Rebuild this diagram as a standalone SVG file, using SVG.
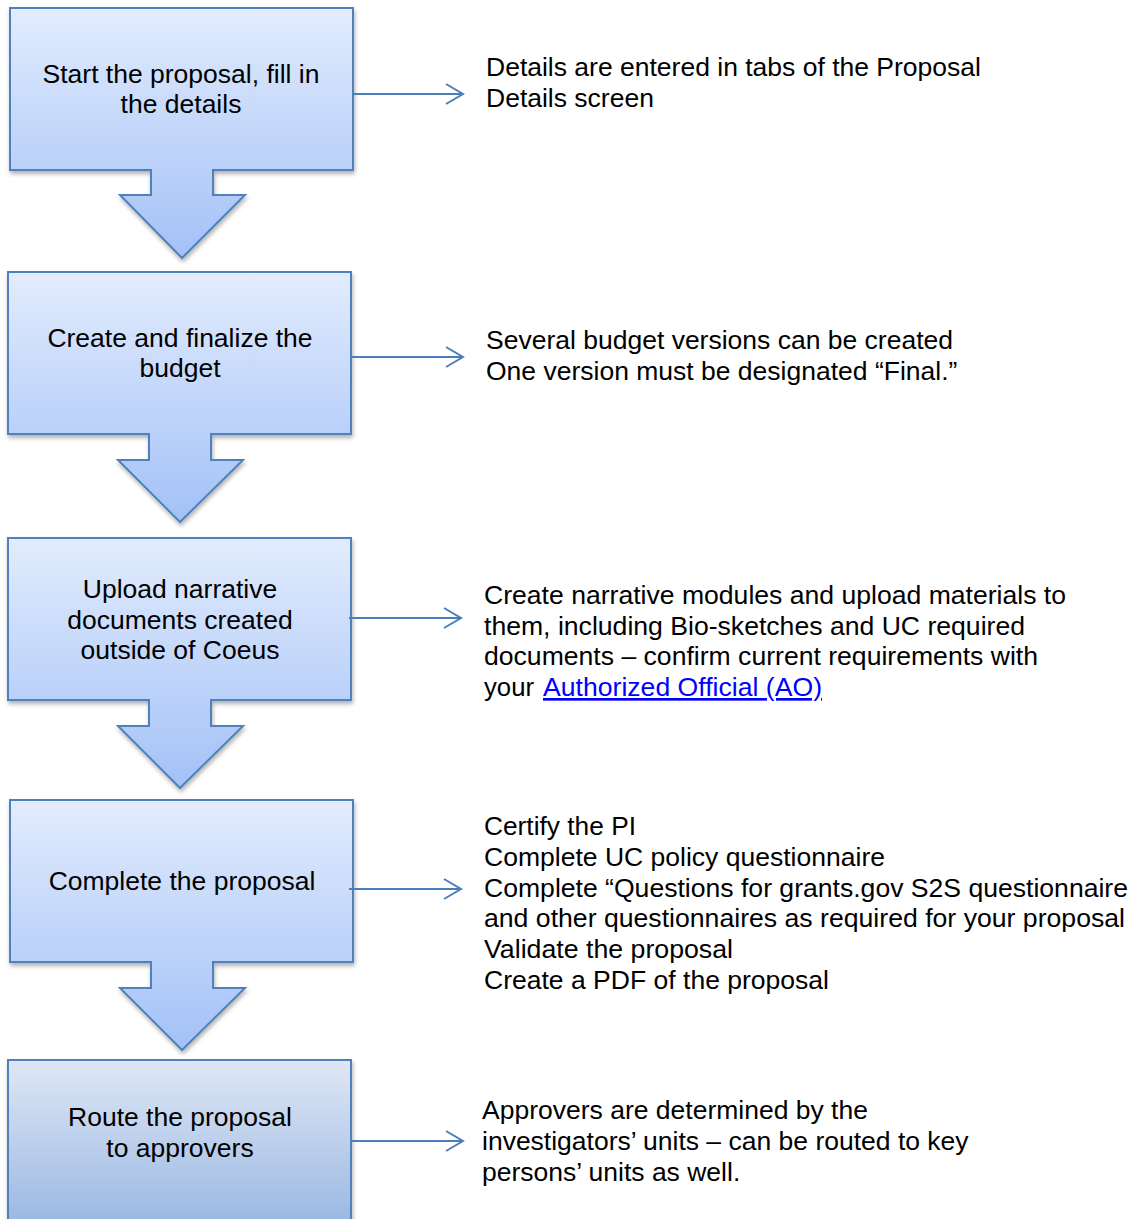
<svg xmlns="http://www.w3.org/2000/svg" width="1134" height="1219" viewBox="0 0 1134 1219">
<style>
.step{stroke:#4f81bd;stroke-width:2;fill:url(#g1);filter:url(#sh)}
.last{fill:url(#g2)}
.lbl{font-family:"Liberation Sans",Arial,sans-serif;font-size:26.5px;fill:#000;text-anchor:middle}
.note{font-family:"Liberation Sans",Arial,sans-serif;font-size:26.5px;fill:#000}
.link{fill:#0000ff;text-decoration:underline}
.conn{stroke:#4a7ebb;stroke-width:2;fill:none;marker-end:url(#arr)}
</style>
<defs>
<linearGradient id="g1" x1="0" y1="0" x2="0" y2="1">
<stop offset="0" stop-color="#e2ecfd"/>
<stop offset="1" stop-color="#a3c1f7"/>
</linearGradient>
<linearGradient id="g2" x1="0" y1="0" x2="0" y2="1">
<stop offset="0" stop-color="#dfe7f5"/>
<stop offset="1" stop-color="#98b6e1"/>
</linearGradient>
<filter id="sh" x="-10%" y="-10%" width="120%" height="130%">
<feDropShadow dx="1" dy="3" stdDeviation="2" flood-color="#000" flood-opacity="0.3"/>
</filter>
<marker id="arr" markerWidth="20" markerHeight="24" refX="18" refY="12" orient="auto" markerUnits="userSpaceOnUse">
<path d="M1,2 L18,12 L1,22" fill="none" stroke="#4a7ebb" stroke-width="2"/>
</marker>
</defs>

<g id="step1">
<path class="step" d="M10,8 H353 V170 H213 V195 H245 L182,258 L120,195 H151 V170 H10 Z"/>
<text class="lbl" x="181" y="83">Start the proposal, fill in</text>
<text class="lbl" x="181" y="113">the details</text>
</g>
<g id="step2">
<path class="step" d="M8,272 H351 V434 H211 V460 H243 L180,522 L118,460 H149 V434 H8 Z"/>
<text class="lbl" x="180" y="347">Create and finalize the</text>
<text class="lbl" x="180" y="377">budget</text>
</g>
<g id="step3">
<path class="step" d="M8,538 H351 V700 H211 V726 H243 L180,788 L118,726 H149 V700 H8 Z"/>
<text class="lbl" x="180" y="598">Upload narrative</text>
<text class="lbl" x="180" y="629">documents created</text>
<text class="lbl" x="180" y="659">outside of Coeus</text>
</g>
<g id="step4">
<path class="step" d="M10,800 H353 V962 H213 V988 H245 L182,1050 L120,988 H151 V962 H10 Z"/>
<text class="lbl" x="182" y="890">Complete the proposal</text>
</g>
<g id="step5">
<path class="step last" d="M8,1060 H351 V1230 H8 Z"/>
<text class="lbl" x="180" y="1126">Route the proposal</text>
<text class="lbl" x="180" y="1157">to approvers</text>
</g>

<g id="connectors">
<line class="conn" x1="353" y1="94" x2="463" y2="94"/>
<line class="conn" x1="351" y1="357" x2="463" y2="357"/>
<line class="conn" x1="349" y1="618" x2="461" y2="618"/>
<line class="conn" x1="349" y1="889" x2="461" y2="889"/>
<line class="conn" x1="351" y1="1141" x2="463" y2="1141"/>
</g>

<g id="note1">
<text class="note" x="486" y="76">Details are entered in tabs of the Proposal</text>
<text class="note" x="486" y="107">Details screen</text>
</g>
<g id="note2">
<text class="note" x="486" y="349">Several budget versions can be created</text>
<text class="note" x="486" y="380">One version must be designated “Final.”</text>
</g>
<g id="note3">
<text class="note" x="484" y="604" textLength="582" lengthAdjust="spacingAndGlyphs">Create narrative modules and upload materials to</text>
<text class="note" x="484" y="635" textLength="541" lengthAdjust="spacingAndGlyphs">them, including Bio-sketches and UC required</text>
<text class="note" x="484" y="665" textLength="554" lengthAdjust="spacingAndGlyphs">documents – confirm current requirements with</text>
<text class="note" x="484" y="696" textLength="50" lengthAdjust="spacingAndGlyphs">your</text>
<text class="note link" x="543" y="696" textLength="279" lengthAdjust="spacingAndGlyphs">Authorized Official (AO)</text>
</g>
<g id="note4">
<text class="note" x="484" y="835" textLength="152" lengthAdjust="spacingAndGlyphs">Certify the PI</text>
<text class="note" x="484" y="866" textLength="401" lengthAdjust="spacingAndGlyphs">Complete UC policy questionnaire</text>
<text class="note" x="484" y="897" textLength="644" lengthAdjust="spacingAndGlyphs">Complete “Questions for grants.gov S2S questionnaire</text>
<text class="note" x="484" y="927" textLength="641" lengthAdjust="spacingAndGlyphs">and other questionnaires as required for your proposal</text>
<text class="note" x="484" y="958" textLength="249" lengthAdjust="spacingAndGlyphs">Validate the proposal</text>
<text class="note" x="484" y="989" textLength="345" lengthAdjust="spacingAndGlyphs">Create a PDF of the proposal</text>
</g>
<g id="note5">
<text class="note" x="482" y="1119">Approvers are determined by the</text>
<text class="note" x="482" y="1150">investigators’ units – can be routed to key</text>
<text class="note" x="482" y="1181">persons’ units as well.</text>
</g>
</svg>
